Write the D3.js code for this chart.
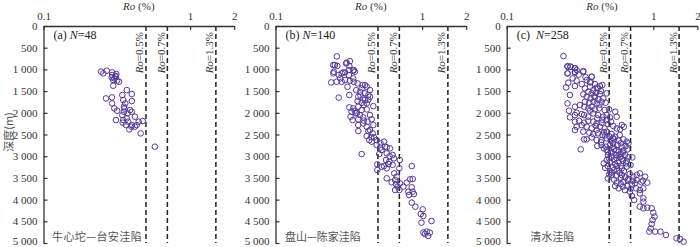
<!DOCTYPE html>
<html><head><meta charset="utf-8">
<script src="https://cdn.jsdelivr.net/npm/d3@7"></script>
<style>
html,body{margin:0;padding:0;background:#fff;}
svg{display:block;}
svg text{font-family:"Liberation Serif","DejaVu Serif","Times New Roman",serif;}
svg text.cjk{font-family:"Noto Sans CJK SC","Noto Sans CJK JP",sans-serif;}
</style></head>
<body>
<script>
// ---------- data ----------
const panelLetters = ["(a)", "(b)", "(c)"];
const panelCounts = [48, 140, 258];
const basinNames = ["牛心坨—台安洼陷", "盘山—陈家洼陷", "清水洼陷"];
const roTickValues = [0.1, 1, 2];
const roTickLabels = ["0.1", "1", "2"];
const depthTickValues = [0,500,1000,1500,2000,2500,3000,3500,4000,4500,5000];
const thresholdPositions = [0.5, 0.7, 1.5];
const thresholdLabels = ["0.5%", "0.7%", "1.3%"];

// [Ro (%), depth (m)]
const samplesA = [
 [0.247,1050],[0.256,1092],[0.27,1030],[0.294,1069],[0.294,1130],[0.314,1107],[0.292,1184],[0.304,1207],
 [0.311,1169],[0.299,1246],[0.328,1284],[0.299,1376],[0.37,1476],[0.267,1668],[0.293,1645],[0.345,1591],
 [0.40,1568],[0.35,1706],[0.40,1729],[0.361,1783],[0.294,1783],[0.354,1860],[0.304,1898],[0.318,1952],
 [0.354,1975],[0.40,1975],[0.375,2013],[0.345,2052],[0.312,2167],[0.35,2167],[0.37,2129],[0.42,2090],
 [0.347,2228],[0.378,2205],[0.40,2282],[0.432,2282],[0.446,2205],[0.475,2190],[0.398,2320],[0.42,2320],
 [0.385,2382],[0.46,2474],[0.575,2781],[0.31,1150],[0.318,1260],[0.357,1900],[0.39,1937],[0.365,2282]
];
const samplesB = [
 [0.262,700],[0.254,900],[0.306,845],[0.322,810],[0.25,1055],[0.29,1070],[0.339,1030],
 [0.248,900],[0.264,920],[0.303,862],[0.319,920],[0.317,1015],[0.298,1070],[0.342,1015],[0.248,1092],
 [0.27,1130],[0.283,1092],[0.317,1130],[0.348,1055],[0.24,1300],[0.261,1285],[0.283,1285],[0.298,1246],
 [0.322,1260],[0.339,1207],[0.276,1207],[0.342,1285],[0.363,1322],[0.393,1360],[0.408,1360],[0.387,1437],
 [0.419,1399],[0.441,1476],[0.377,1515],[0.408,1553],[0.43,1590],[0.319,1590],[0.27,1650],[0.367,1630],
 [0.397,1668],[0.441,1630],[0.363,1730],[0.387,1768],[0.419,1783],[0.408,1706],[0.465,1845],[0.319,1875],
 [0.339,1898],[0.348,1952],[0.33,1975],[0.367,1860],[0.387,1937],[0.419,1922],[0.353,2013],[0.377,2052],
 [0.325,2090],[0.336,2167],[0.367,2150],[0.397,2105],[0.441,2052],[0.453,2150],[0.425,2205],[0.397,2244],
 [0.367,2282],[0.465,2282],[0.419,2321],[0.441,2397],[0.367,2420],[0.46,2474],[0.419,2535],[0.47,2566],
 [0.436,2628],[0.453,2665],[0.49,2628],[0.49,2742],[0.521,2704],[0.55,2665],[0.559,2781],[0.529,2858],
 [0.574,2797],[0.604,2820],[0.387,2950],[0.51,2950],[0.574,2935],[0.63,2973],[0.643,3050],[0.568,3088],
 [0.597,3127],[0.495,3188],[0.55,3227],[0.589,3180],[0.574,3280],[0.495,3319],[0.529,3242],[0.704,3088],
 [0.70,3280],[0.646,3395],[0.671,3472],[0.574,3510],[0.655,3549],[0.664,3641],[0.707,3626],[0.655,3779],
 [0.70,3779],[0.745,3702],[0.85,3227],[0.828,3534],[0.863,3525],[0.786,3610],[0.85,3718],[0.806,3818],
 [0.863,3818],[0.814,3894],[0.88,3872],[0.85,4070],[0.90,4163],[1.01,4225],[0.98,4332],[1.02,4378],
 [0.99,4531],[1.16,4493],[1.02,4760],[1.075,4738],[1.13,4760],[1.10,4838],[1.045,4790],
 [0.31,1400],[0.355,1480],[0.38,1600],[0.43,1700],[0.40,1820],[0.36,2000],[0.40,2180],[0.43,2420],
 [0.45,2560],[0.52,2800],[0.60,3000],[0.63,3200],[0.62,3600],[0.68,3700]
];
const samplesC = [
 [0.244,694],[0.26,924],[0.272,935],[0.292,977],[0.26,1092],[0.292,1055],[0.333,1040],[0.38,1170],
 [0.26,939],[0.272,939],[0.292,970],[0.30,1015],[0.292,1077],[0.26,1092],[0.333,1055],[0.38,1169],
 [0.282,1207],[0.263,1307],[0.30,1260],[0.254,1415],[0.292,1384],[0.325,1338],[0.351,1246],[0.374,1285],
 [0.40,1338],[0.433,1384],[0.45,1360],[0.342,1437],[0.37,1399],[0.39,1476],[0.418,1437],[0.36,1515],
 [0.38,1553],[0.407,1538],[0.433,1568],[0.481,1553],[0.27,1590],[0.333,1575],[0.351,1630],[0.374,1668],
 [0.40,1645],[0.422,1690],[0.456,1668],[0.342,1745],[0.366,1768],[0.39,1745],[0.411,1783],[0.444,1745],
 [0.473,1768],[0.26,1783],[0.292,1860],[0.316,1822],[0.338,1860],[0.36,1898],[0.38,1860],[0.40,1922],
 [0.428,1898],[0.466,1937],[0.50,1922],[0.55,1975],[0.266,1952],[0.30,2000],[0.325,2030],[0.292,2052],
 [0.27,2105],[0.337,2052],[0.36,2090],[0.39,2013],[0.42,2052],[0.456,2090],[0.481,2052],[0.507,2105],
 [0.563,2090],[0.481,2167],[0.515,2205],[0.292,2205],[0.312,2183],[0.337,2228],[0.36,2183],[0.39,2205],
 [0.411,2244],[0.444,2228],[0.30,2321],[0.325,2282],[0.292,2397],[0.351,2321],[0.38,2360],[0.411,2397],
 [0.433,2321],[0.466,2360],[0.534,2305],[0.563,2360],[0.61,2282],[0.63,2321],[0.594,2382],[0.333,2435],
 [0.366,2458],[0.39,2490],[0.42,2474],[0.45,2512],[0.481,2435],[0.52,2490],[0.55,2551],[0.59,2512],
 [0.337,2612],[0.351,2612],[0.38,2566],[0.411,2628],[0.444,2628],[0.481,2590],[0.512,2643],[0.54,2612],
 [0.58,2643],[0.625,2612],[0.659,2665],[0.415,2765],[0.444,2742],[0.476,2781],[0.507,2742],[0.534,2781],
 [0.57,2742],[0.61,2781],[0.648,2765],[0.676,2704],[0.32,2842],[0.481,2858],[0.512,2896],[0.54,2842],
 [0.58,2896],[0.625,2873],[0.666,2842],[0.49,2973],[0.52,3012],[0.56,2973],[0.594,3027],[0.642,2973],
 [0.676,3027],[0.72,3027],[0.481,3088],[0.507,3127],[0.54,3088],[0.58,3150],[0.62,3104],[0.652,3165],
 [0.46,3165],[0.49,3227],[0.53,3257],[0.563,3227],[0.61,3280],[0.659,3242],[0.70,3204],[0.507,3357],
 [0.54,3319],[0.59,3380],[0.49,3510],[0.52,3433],[0.61,3433],[0.642,3487],[0.69,3410],[0.732,3472],
 [0.771,3433],[0.81,3395],[0.88,3472],[0.91,3610],[0.85,3564],[0.771,3549],[0.725,3564],[0.67,3549],
 [0.625,3587],[0.563,3610],[0.55,3687],[0.58,3741],[0.62,3702],[0.666,3687],[0.715,3664],[0.766,3741],
 [0.81,3779],[0.856,3741],[0.694,3818],[0.715,3917],[0.74,4010],[0.81,3856],[0.856,3971],[0.856,4048],
 [0.81,4163],[0.856,4201],[0.91,4186],[0.975,4201],[1.0,4301],[1.02,4393],[0.99,4470],[0.975,4562],
 [0.96,4662],[0.94,4738],[1.03,4738],[1.12,4738],[1.22,4815],[1.44,4892],[1.52,4908],[1.61,4970],
 [0.31,1120],[0.345,1180],[0.37,1300],[0.41,1420],[0.44,1500],[0.395,1620],[0.43,1810],[0.37,1950],
 [0.415,2130],[0.45,2160],[0.49,2260],[0.405,2300],[0.46,2450],[0.50,2540],[0.53,2700],[0.60,2700],
 [0.46,2820],[0.56,2860],[0.60,2940],[0.52,2920],[0.50,3050],[0.56,3040],[0.61,3060],[0.55,3180],
 [0.60,3220],[0.47,3270],[0.57,3330],[0.63,3340],[0.50,3420],[0.56,3450],[0.60,3500],[0.68,3520],
 [0.54,3540],[0.60,3640],[0.70,3750],[0.75,3620],[0.64,3780],[0.83,3600],[0.52,3380],[0.58,2980],
 [0.44,2680],[0.47,2520],[0.53,2580],[0.62,2920],[0.66,3110],[0.49,2900]
];
const panelSamples = [samplesA, samplesB, samplesC];

// ---------- layout ----------
const W = 700, H = 247;
const panelX = [43.5, 275.5, 506.7];
const panelW = 190.7;
const yTop = 26, yBottom = 243;
const labelOffsets = [8.5, 9.5, 23.5];
const serif = '"Liberation Serif","DejaVu Serif","Times New Roman",serif';

const svg = d3.select("body").append("svg").attr("width", W).attr("height", H);
const y = d3.scaleLinear().domain([0, 5000]).range([yTop, yBottom]);
const fmtDepth = d => d >= 1000 ? Math.floor(d / 1000) + " " + String(d % 1000).padStart(3, "0") : String(d);

panelSamples.forEach((samples, i) => {
  const x0 = panelX[i];
  const x = d3.scaleLog().domain([0.1, 2]).range([x0, x0 + panelW]);
  const g = svg.append("g");

  // threshold lines
  thresholdPositions.forEach((v, k) => {
    g.append("line").attr("x1", x(v)).attr("x2", x(v)).attr("y1", yTop).attr("y2", yBottom)
      .attr("stroke", "#222").attr("stroke-width", 1.5).attr("stroke-dasharray", "5,3");
    const t = g.append("text").attr("transform", `translate(${x(v) - 2.5},${yTop + 6}) rotate(-90)`)
      .attr("text-anchor", "end").attr("font-size", 11).attr("fill", "#333");
    t.append("tspan").attr("font-style", "italic").text("Ro");
    t.append("tspan").text("=" + thresholdLabels[k]);
  });

  // top axis
  const ax = g.append("g").attr("transform", `translate(0,${yTop})`)
    .call(d3.axisTop(x).tickValues(roTickValues).tickFormat((d, k) => roTickLabels[k])
      .tickSizeInner(-4).tickSizeOuter(0).tickPadding(6.5));
  // left axis
  const ay = g.append("g").attr("transform", `translate(${x0},0)`)
    .call(d3.axisLeft(y).tickValues(depthTickValues).tickFormat(fmtDepth)
      .tickSizeInner(-4).tickSizeOuter(0).tickPadding(6));
  [ax, ay].forEach(a => {
    a.attr("font-family", serif);
    a.select(".domain").attr("stroke", "#333").attr("stroke-width", 1.3);
    a.selectAll(".tick line").attr("stroke", "#333").attr("stroke-width", 1.2);
    a.selectAll(".tick text").attr("font-size", 11).attr("fill", "#333")
      .style("font-family", serif).style("white-space", "pre");
  });
  // keep the bottom depth label inside the window
  ay.selectAll(".tick text").filter(d => d === 5000).attr("dy", "0.1em");

  // axis title
  const tt = g.append("text").attr("x", x0 + panelW / 2).attr("y", 9.5)
    .attr("text-anchor", "middle").attr("font-size", 11).attr("fill", "#333");
  tt.append("tspan").attr("font-style", "italic").text("Ro");
  tt.append("tspan").text(" (%)");

  // panel label
  const pl = g.append("text").attr("x", x0 + 10).attr("y", 39).attr("font-size", 12).attr("fill", "#222");
  pl.append("tspan").text(panelLetters[i] + (i === 2 ? "\u2002" : " "));
  pl.append("tspan").attr("font-style", "italic").text("N");
  pl.append("tspan").text("=" + panelCounts[i]);

  // basin label
  g.append("text").attr("class", "cjk").attr("x", x0 + labelOffsets[i]).attr("y", 241)
    .attr("font-size", 11).attr("fill", "#555").attr("letter-spacing", i === 0 ? 0.4 : 0)
    .text(basinNames[i]);

  // points
  g.append("g").selectAll("circle").data(samples).join("circle")
    .attr("cx", d => x(d[0])).attr("cy", d => y(d[1])).attr("r", 2.8)
    .attr("fill", "none").attr("stroke", "#55399a").attr("stroke-width", 1);
});

// y axis title
svg.append("text").attr("class", "cjk")
  .attr("transform", `translate(13,132) rotate(-90)`).attr("text-anchor", "middle")
  .attr("font-size", 11).attr("fill", "#555").text("深度(m)");
</script>
</body></html>
